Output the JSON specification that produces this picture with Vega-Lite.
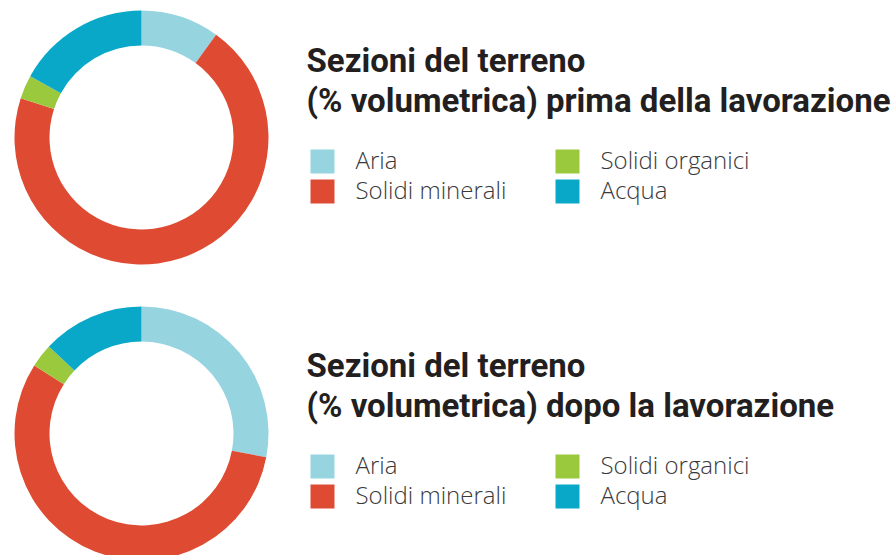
{
  "$schema": "https://vega.github.io/schema/vega-lite/v6.json",
  "background": "white",
  "padding": {"left": 14.5, "top": 10.5, "right": 0, "bottom": 0},
  "spacing": 42,
  "config": {
    "view": {"stroke": null},
    "legend": {
      "orient": "none",
      "direction": "vertical",
      "columns": 2,
      "symbolType": "square",
      "symbolSize": 576,
      "symbolStrokeWidth": 0,
      "symbolOpacity": 1,
      "symbolOffset": 4,
      "labelFont": "Open Sans",
      "labelFontSize": 24,
      "labelFontWeight": 300,
      "labelColor": "#3a3a3c",
      "labelOffset": 21,
      "labelLimit": 400,
      "rowPadding": 6,
      "columnPadding": 45,
      "titleFont": "Roboto",
      "titleFontSize": 33,
      "titleFontWeight": "bold",
      "titleColor": "#231f20",
      "titleLineHeight": 40,
      "titleLimit": 800,
      "titlePadding": 31
    }
  },
  "data": {
    "values": [
      {"fase": "prima", "sezione": "Aria", "ordine": 1, "percentuale": 10},
      {"fase": "prima", "sezione": "Solidi minerali", "ordine": 2, "percentuale": 70},
      {"fase": "prima", "sezione": "Solidi organici", "ordine": 3, "percentuale": 3},
      {"fase": "prima", "sezione": "Acqua", "ordine": 4, "percentuale": 17},
      {"fase": "dopo", "sezione": "Aria", "ordine": 1, "percentuale": 28},
      {"fase": "dopo", "sezione": "Solidi minerali", "ordine": 2, "percentuale": 56},
      {"fase": "dopo", "sezione": "Solidi organici", "ordine": 3, "percentuale": 3},
      {"fase": "dopo", "sezione": "Acqua", "ordine": 4, "percentuale": 13}
    ]
  },
  "vconcat": [
    {
      "width": 254,
      "height": 254,
      "transform": [{"filter": "datum.fase === 'prima'"}],
      "mark": {"type": "arc", "innerRadius": 92, "outerRadius": 127},
      "encoding": {
        "theta": {"field": "percentuale", "type": "quantitative", "stack": true},
        "order": {"field": "ordine", "type": "quantitative"},
        "color": {
          "field": "sezione",
          "type": "nominal",
          "scale": {
            "domain": ["Aria", "Solidi minerali", "Solidi organici", "Acqua"],
            "range": ["#96d4e0", "#df4b32", "#9ac93d", "#0aa8c8"]
          },
          "legend": {
            "title": ["Sezioni del terreno", "(% volumetrica) prima della lavorazione"],
            "legendX": 292,
            "legendY": 35
          }
        }
      }
    },
    {
      "width": 254,
      "height": 254,
      "transform": [{"filter": "datum.fase === 'dopo'"}],
      "mark": {"type": "arc", "innerRadius": 92, "outerRadius": 127},
      "encoding": {
        "theta": {"field": "percentuale", "type": "quantitative", "stack": true},
        "order": {"field": "ordine", "type": "quantitative"},
        "color": {
          "field": "sezione",
          "type": "nominal",
          "scale": {
            "domain": ["Aria", "Solidi minerali", "Solidi organici", "Acqua"],
            "range": ["#96d4e0", "#df4b32", "#9ac93d", "#0aa8c8"]
          },
          "legend": {
            "title": ["Sezioni del terreno", "(% volumetrica) dopo la lavorazione"],
            "legendX": 292,
            "legendY": 44
          }
        }
      }
    }
  ],
  "resolve": {"scale": {"color": "independent"}, "legend": {"color": "independent"}}
}
